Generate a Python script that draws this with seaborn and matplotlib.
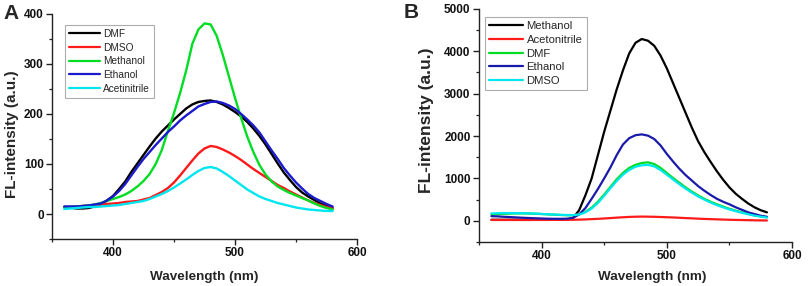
import numpy as np
import pandas as pd
import matplotlib
matplotlib.use("Agg")
import matplotlib.pyplot as plt
import seaborn as sns
from matplotlib.ticker import MultipleLocator

# ---------------- data ----------------
wavelength = list(range(360, 585, 5))

# Panel A
a_dmf = [14, 13, 11, 11, 12, 15, 19, 27, 36, 50, 65, 84, 101, 118, 135, 151, 165, 177, 189, 200,
         211, 219, 224, 226, 227, 224, 219, 212, 204, 195, 184, 171, 156, 139, 120, 101, 83, 68,
         54, 43, 35, 28, 21, 16, 12]
a_dmso = [14, 14, 15, 16, 17, 18, 19, 20, 21, 22, 24, 25, 26, 29, 32, 38, 44, 52, 63, 77,
          92, 107, 121, 131, 136, 134, 129, 123, 116, 108, 99, 90, 82, 74, 66, 58, 52, 45,
          39, 33, 27, 22, 18, 14, 11]
a_methanol = [14, 14, 15, 16, 17, 19, 22, 26, 30, 34, 39, 46, 55, 66, 80, 100, 128, 166, 202, 242,
              287, 340, 369, 381, 379, 356, 318, 275, 232, 192, 155, 124, 98, 79, 65, 55, 48, 42,
              37, 32, 27, 21, 16, 12, 9]
a_ethanol = [15, 15, 15, 16, 17, 19, 21, 27, 35, 46, 60, 77, 94, 110, 124, 138, 151, 164, 175, 187,
             197, 206, 215, 220, 224, 225, 222, 217, 210, 200, 189, 177, 163, 145, 127, 110, 92, 77,
             63, 51, 40, 32, 26, 20, 15]
a_acetinitrile = [10, 11, 12, 13, 14, 14, 15, 16, 17, 18, 20, 22, 24, 26, 30, 35, 40, 46, 53, 61,
                  69, 78, 86, 92, 94, 91, 84, 76, 67, 58, 49, 42, 35, 30, 26, 22, 19, 16,
                  13, 11, 9, 8, 7, 6, 6]
a_names = ["DMF", "DMSO", "Methanol", "Ethanol", "Acetinitrile"]

# Panel B
b_methanol = [25, 25, 25, 25, 25, 25, 25, 25, 26, 27, 28, 29, 30, 60, 250, 600, 1000, 1550, 2100, 2600,
              3100, 3550, 3950, 4200, 4290, 4250, 4130, 3900, 3600, 3250, 2900, 2550, 2200, 1880,
              1620, 1390, 1170, 970, 790, 640, 520, 410, 320, 250, 200]
b_acetonitrile = [20, 20, 20, 20, 20, 20, 20, 21, 21, 21, 22, 22, 23, 25, 28, 33, 40, 47, 55, 65,
                  75, 84, 92, 97, 100, 98, 95, 90, 85, 79, 72, 65, 58, 51, 45, 40, 35, 30,
                  25, 21, 18, 15, 12, 10, 8]
b_dmf = [150, 160, 165, 170, 175, 175, 172, 168, 160, 152, 145, 138, 132, 130, 150, 210, 310, 450, 620, 800,
         980, 1130, 1250, 1320, 1365, 1380, 1340, 1250, 1130, 1010, 900, 790, 690, 600,
         520, 450, 390, 335, 285, 240, 200, 165, 130, 105, 85]
b_ethanol = [110, 105, 95, 88, 80, 72, 66, 60, 55, 50, 48, 47, 50, 70, 150, 300, 520, 750, 1000, 1260,
             1550, 1800, 1950, 2020, 2040, 2010, 1930, 1780, 1580, 1400, 1230, 1080, 950, 820,
             710, 610, 520, 450, 390, 320, 260, 200, 160, 120, 95]
b_dmso = [175, 180, 182, 183, 182, 180, 176, 170, 163, 155, 148, 142, 137, 135, 148, 200, 290, 420, 590, 770,
          940, 1090, 1200, 1275, 1310, 1320, 1285, 1200, 1090, 975, 865, 760, 665, 575,
          500, 430, 370, 318, 270, 228, 190, 155, 122, 98, 78]
b_names = ["Methanol", "Acetonitrile", "DMF", "Ethanol", "DMSO"]

# ---------------- style ----------------
sns.set_theme(style="ticks")
plt.rcParams["font.family"] = ["Liberation Sans", "DejaVu Sans"]

colors_a = {"DMF": "#000000", "DMSO": "#ff1a1a", "Methanol": "#00dd22",
            "Ethanol": "#1a1acc", "Acetinitrile": "#00e6f0"}
colors_b = {"Methanol": "#000000", "Acetonitrile": "#ff1a1a", "DMF": "#00dd22",
            "Ethanol": "#1a1aaa", "DMSO": "#00e6f0"}

df_a = pd.DataFrame({
    "Wavelength": wavelength * 5,
    "Intensity": a_dmf + a_dmso + a_methanol + a_ethanol + a_acetinitrile,
    "Solvent": sum([[n] * len(wavelength) for n in a_names], []),
})
df_b = pd.DataFrame({
    "Wavelength": wavelength * 5,
    "Intensity": b_methanol + b_acetonitrile + b_dmf + b_ethanol + b_dmso,
    "Solvent": sum([[n] * len(wavelength) for n in b_names], []),
})

fig = plt.figure(figsize=(8.09, 2.86), dpi=100)
ax_a = fig.add_axes([0.0643, 0.1643, 0.377, 0.787])
ax_b = fig.add_axes([0.592, 0.1538, 0.387, 0.815])

sns.lineplot(data=df_a, x="Wavelength", y="Intensity", hue="Solvent", hue_order=a_names,
             palette=colors_a, linewidth=1.7, ax=ax_a, sort=False)
sns.lineplot(data=df_b, x="Wavelength", y="Intensity", hue="Solvent", hue_order=b_names,
             palette=colors_b, linewidth=1.6, ax=ax_b, sort=False)
for ax in (ax_a, ax_b):
    for ln in ax.get_lines():
        ln.set_solid_joinstyle("round")

def style_axes(ax, ylim, ymajor, yminor, legend_anchor, leg_fs, handlelen, labelspacing,
               ylab_fs, ylab_xy, xlab_xy):
    ax.set_xlim(350, 600)
    ax.set_ylim(*ylim)
    ax.xaxis.set_major_locator(MultipleLocator(100))
    ax.xaxis.set_minor_locator(MultipleLocator(50))
    ax.yaxis.set_major_locator(MultipleLocator(ymajor))
    ax.yaxis.set_minor_locator(MultipleLocator(yminor))
    for s in ["top", "right"]:
        ax.spines[s].set_visible(False)
    for s in ["left", "bottom"]:
        ax.spines[s].set_linewidth(1.0)
        ax.spines[s].set_color("#222222")
    ax.tick_params(which="major", direction="out", length=4, width=1.0, labelsize=8.5,
                   colors="#222222", pad=2)
    ax.tick_params(which="minor", direction="out", length=2.5, width=0.9, colors="#222222")
    for lab in ax.get_xticklabels() + ax.get_yticklabels():
        lab.set_fontweight("bold")
        lab.set_color("#111111")
    ax.set_xlabel("Wavelength (nm)", fontsize=9.7, fontweight="bold")
    ax.set_ylabel("FL-intensity (a.u.)", fontsize=ylab_fs, fontweight="bold")
    ax.xaxis.set_label_coords(*xlab_xy)
    ax.yaxis.set_label_coords(*ylab_xy)
    ax.xaxis.label.set_va("center")
    ax.yaxis.label.set_va("center")
    handles, labels = ax.get_legend_handles_labels()
    leg = ax.legend(handles, labels, loc="upper left", bbox_to_anchor=legend_anchor,
                    borderaxespad=0, frameon=True, fancybox=False, fontsize=leg_fs,
                    handlelength=handlelen, labelspacing=labelspacing, handletextpad=0.3,
                    borderpad=0.4)
    leg.get_frame().set_edgecolor("#999999")
    leg.get_frame().set_linewidth(0.8)
    for line in leg.get_lines():
        line.set_linewidth(1.6)

style_axes(ax_a, (-50, 400), 100, 50, (0.043, 0.951), 7.3, 3.0, 0.36,
           11.0, (-0.131, 0.467), (0.498, -0.169))
style_axes(ax_b, (-500, 5000), 1000, 500, (0.019, 0.966), 8.1, 3.0, 0.32,
           12.5, (-0.166, 0.524), (0.553, -0.150))

fig.text(0.004, 0.985, "A", fontsize=15, fontweight="bold", va="top", ha="left")
fig.text(0.499, 0.99, "B", fontsize=15, fontweight="bold", va="top", ha="left")

fig.savefig("out.png", dpi=100)
